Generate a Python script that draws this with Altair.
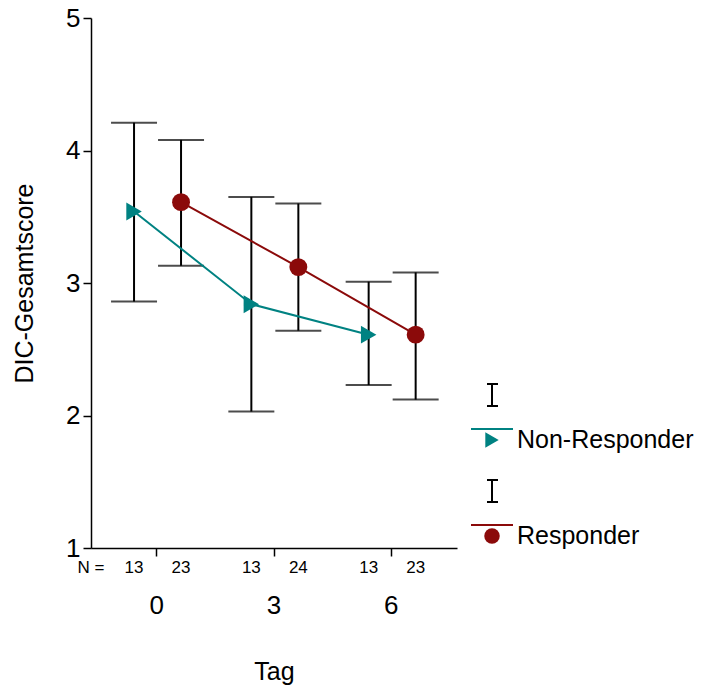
import altair as alt
import pandas as pd

tags = ["0", "3", "6"]
groups = ["Non-Responder", "Responder"]
nr_mean = [3.54, 2.84, 2.61]
nr_low = [2.86, 2.03, 2.23]
nr_high = [4.21, 3.65, 3.01]
nr_n = [13, 13, 13]
r_mean = [3.61, 3.12, 2.61]
r_low = [3.13, 2.64, 2.12]
r_high = [4.08, 3.60, 3.08]
r_n = [23, 24, 23]

colors = ["#008282", "#8b0a0a"]
shapes = ["triangle-right", "circle"]

rows = []
for i, t in enumerate(tags):
    rows.append(dict(Tag=t, Gruppe=groups[0], mean=nr_mean[i], low=nr_low[i], high=nr_high[i], n=str(nr_n[i])))
    rows.append(dict(Tag=t, Gruppe=groups[1], mean=r_mean[i], low=r_low[i], high=r_high[i], n=str(r_n[i])))
df = pd.DataFrame(rows)

FONT = "Liberation Sans"
W, H = 366, 530

x_enc = alt.X("Tag:N", sort=tags, title="Tag",
              scale=alt.Scale(paddingInner=0, paddingOuter=0.06),
              axis=alt.Axis(labelAngle=0, labelFontSize=26, labelPadding=36,
                            tickSize=8, tickColor="black", tickWidth=1.5,
                            domainColor="black", domainWidth=1.5,
                            titleFontSize=25, titleFontWeight="normal", titlePadding=41,
                            labelColor="black", titleColor="black", grid=False,
                            labelFont=FONT, titleFont=FONT))
xo_enc = alt.XOffset("Gruppe:N", sort=groups,
                     scale=alt.Scale(type="point", range=[36, 83], padding=0))
y_scale = alt.Scale(domain=[1, 5], nice=False, zero=False)
y_axis = alt.Axis(values=[1, 2, 3, 4, 5], format="d", labelFontSize=26, tickSize=8,
                  tickColor="black", tickWidth=1.5, domainColor="black",
                  domainWidth=1.5, titleFontSize=25, titleFontWeight="normal",
                  titlePadding=28, labelColor="black", titleColor="black",
                  grid=False, labelFont=FONT, titleFont=FONT, labelPadding=3)
color_scale = alt.Scale(domain=groups, range=colors)
shape_scale = alt.Scale(domain=groups, range=shapes)

base = alt.Chart(df)

rules = base.mark_rule(color="black", strokeWidth=2).encode(
    x=x_enc, xOffset=xo_enc,
    y=alt.Y("low:Q", scale=y_scale, axis=y_axis, title="DIC-Gesamtscore"),
    y2="high:Q")
cap_lo = base.mark_tick(color="black", thickness=2, size=46, orient="horizontal").encode(
    x=x_enc, xOffset=xo_enc, y=alt.Y("low:Q", scale=y_scale))
cap_hi = base.mark_tick(color="black", thickness=2, size=46, orient="horizontal").encode(
    x=x_enc, xOffset=xo_enc, y=alt.Y("high:Q", scale=y_scale))
lines = base.mark_line(strokeWidth=2).encode(
    x=x_enc, xOffset=xo_enc, y=alt.Y("mean:Q", scale=y_scale),
    color=alt.Color("Gruppe:N", scale=color_scale, legend=None),
    detail="Gruppe:N")
points = base.mark_point(filled=True, opacity=1, size=320).encode(
    x=x_enc, xOffset=xo_enc, y=alt.Y("mean:Q", scale=y_scale),
    color=alt.Color("Gruppe:N", scale=color_scale, legend=None),
    shape=alt.Shape("Gruppe:N", scale=shape_scale, legend=None))
ntext = base.mark_text(fontSize=17, font=FONT, color="black").encode(
    x=x_enc, xOffset=xo_enc, y=alt.value(H + 20), text="n:N")
nlabel = alt.Chart(pd.DataFrame({"t": ["N ="]})).mark_text(
    fontSize=17, font=FONT, color="black", align="center").encode(
    x=alt.value(0), y=alt.value(H + 20), text="t:N")

# custom legend
legend_layers = []
for i, g in enumerate(groups):
    d = alt.Chart(pd.DataFrame({"Gruppe": [g]}))
    y0 = 366 + i * 96
    legend_layers += [
        d.mark_rule(color="black", strokeWidth=2).encode(
            x=alt.value(401), y=alt.value(y0), y2=alt.value(y0 + 22)),
        d.mark_rule(color="black", strokeWidth=2).encode(
            x=alt.value(396), x2=alt.value(407), y=alt.value(y0)),
        d.mark_rule(color="black", strokeWidth=2).encode(
            x=alt.value(396), x2=alt.value(407), y=alt.value(y0 + 22)),
        d.mark_rule(color=colors[i], strokeWidth=2).encode(
            x=alt.value(380), x2=alt.value(422), y=alt.value(y0 + 45)),
        d.mark_point(filled=True, opacity=1, size=240, shape=shapes[i], color=colors[i]).encode(
            x=alt.value(401), y=alt.value(y0 + 56)),
        d.mark_text(align="left", baseline="middle", fontSize=25, font=FONT, color="black").encode(
            x=alt.value(426), y=alt.value(y0 + 56), text="Gruppe:N"),
    ]

chart = alt.layer(rules, cap_lo, cap_hi, lines, points, ntext, nlabel, *legend_layers).properties(
    width=W, height=H,
    autosize=alt.AutoSizeParams(type="none"),
    padding={"left": 83, "top": 10, "right": 240, "bottom": 137},
).configure_view(strokeOpacity=0, strokeWidth=0)

chart.save("out.html", embed_options={"renderer": "svg", "actions": False})
